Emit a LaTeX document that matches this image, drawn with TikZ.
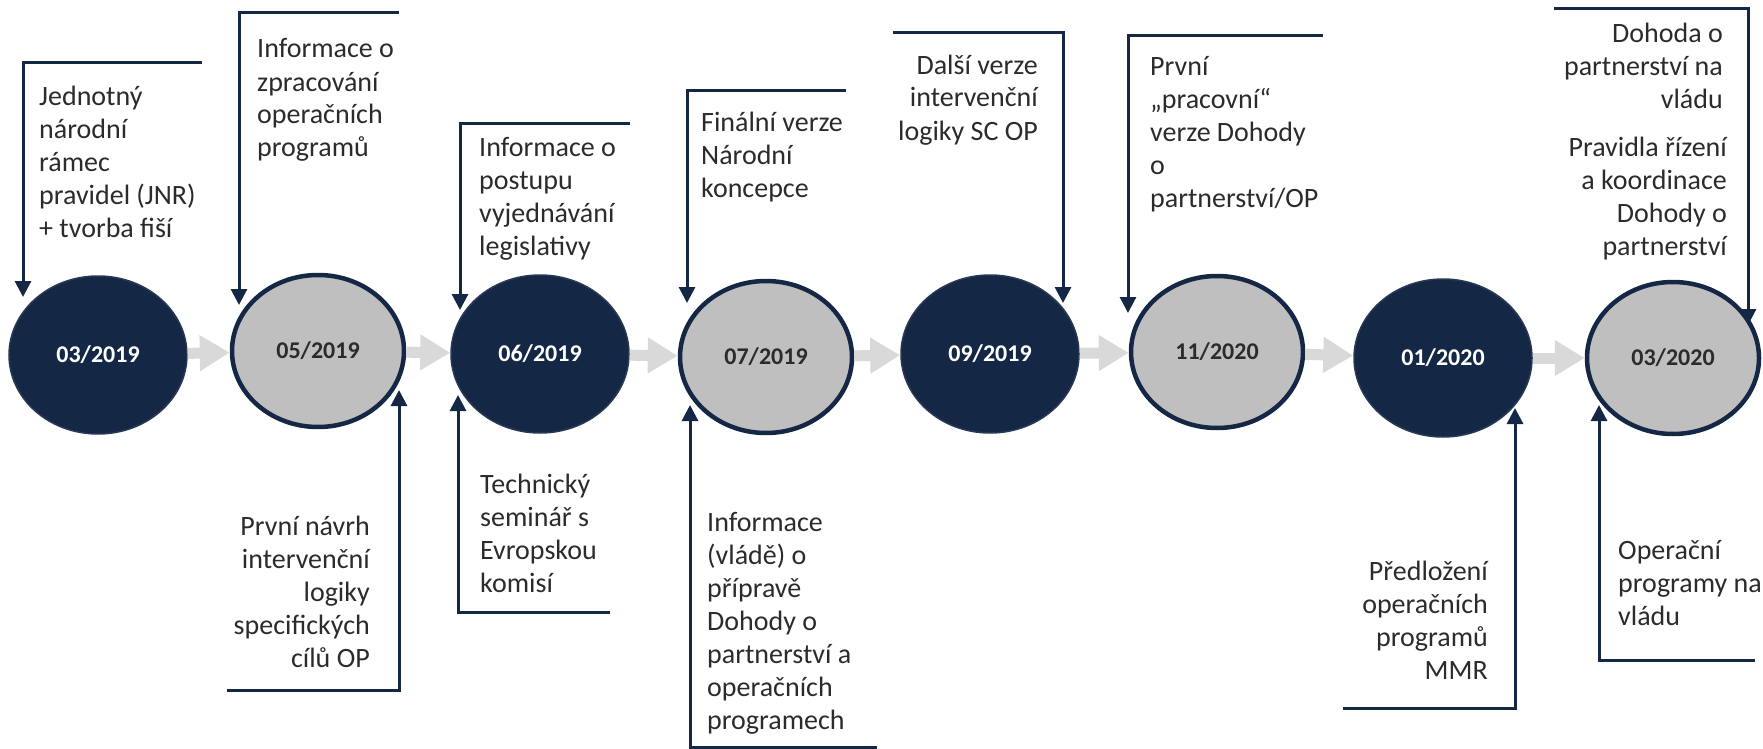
\documentclass[tikz,border=0pt]{standalone}
\usepackage{fontspec}
\setmainfont{Carlito}
\usetikzlibrary{shapes.geometric,arrows.meta}
\definecolor{navy}{HTML}{142846}
\definecolor{stepgray}{HTML}{BFBFBF}
\definecolor{flowgray}{HTML}{D9D9D9}
\definecolor{inkgray}{HTML}{2B2B2B}
\tikzset{
  stepnode/.style={ellipse, inner sep=0pt, font=\fontsize{24}{28}\selectfont\bfseries},
  darkstep/.style={stepnode, fill=navy, draw=navy!92!white, line width=1.5pt,
    minimum width=178pt, minimum height=158pt, text=white},
  graystep/.style={stepnode, fill=stepgray, draw=navy, line width=4.5pt,
    minimum width=172pt, minimum height=152pt, text=inkgray},
  flow/.style={draw=flowgray, line width=11pt, -{Triangle[length=30pt,width=34pt]}},
  callout/.style={draw=navy, line width=3pt, -{Triangle[length=16pt,width=16pt]}},
  note/.style={inner sep=0pt, text=inkgray, font=\fontsize{28}{33}\selectfont},
}
\begin{document}
\begin{tikzpicture}[x=1pt,y=-1pt]
      \useasboundingbox (0,0) rectangle (1763,749);
      \path
        (98,355) node[darkstep] (m1) {03/2019}
        (318,351) node[graystep] (m2) {05/2019}
        (540,354) node[darkstep] (m3) {06/2019}
        (766,357) node[graystep] (m4) {07/2019}
        (990,354) node[darkstep] (m5) {09/2019}
        (1217,352) node[graystep] (m6) {11/2020}
        (1443,358) node[darkstep] (m7) {01/2020}
        (1673,358) node[graystep] (m8) {03/2020};
      \begin{scope}[flow]
        \draw (m1) to (m2);
        \draw (m2) to (m3);
        \draw (m3) to (m4);
        \draw (m4) to (m5);
        \draw (m5) to (m6);
        \draw (m6) to (m7);
        \draw (m7) to (m8);
      \end{scope}
      % texts, placed by the baseline of their last line
      \node[note, anchor=base west, align=left] (n1) at (39,237)
        {Jednotný\\národní\\rámec\\pravidel (JNR)\\+ tvorba fiší};
      \node[note, anchor=base west, align=left] (n2) at (257,157)
        {Informace o\\zpracování\\operačních\\programů};
      \node[note, anchor=base east, align=right] (n3) at (370,667)
        {První návrh\\intervenční\\logiky\\specifických\\cílů OP};
      \node[note, anchor=base west, align=left] (n4) at (479,255)
        {Informace o\\postupu\\vyjednávání\\legislativy};
      \node[note, anchor=base west, align=left] (n5) at (480,592)
        {Technický\\seminář s\\Evropskou\\komisí};
      \node[note, anchor=base west, align=left] (n6) at (701,197)
        {Finální verze\\Národní\\koncepce};
      \node[note, anchor=base west, align=left] (n7) at (707,729)
        {Informace\\(vládě) o\\přípravě\\Dohody o\\partnerství a\\operačních\\programech};
      \node[note, anchor=base east, align=right] (n8) at (1038,140)
        {Další verze\\intervenční\\logiky SC OP};
      \node[note, anchor=base west, align=left] (n9) at (1150,207)
        {První\\„pracovní“\\verze Dohody\\o\\partnerství/OP};
      \node[note, anchor=base east, align=right] (n10) at (1488,679)
        {Předložení\\operačních\\programů\\MMR};
      \node[note, anchor=base east, align=right] (n11) at (1723,109)
        {Dohoda o\\partnerství na\\vládu};
      \node[note, anchor=base east, align=right] (n12) at (1727,255)
        {Pravidla řízení\\a koordinace\\Dohody o\\partnerství};
      \node[note, anchor=base west, align=left] (n13) at (1618,625)
        {Operační\\programy na\\vládu};
      % callout corners
      \path
        (202,63) coordinate (a1) (23,63) coordinate (b1) (23,297) coordinate (t1)
        (399,13) coordinate (a2) (239,13) coordinate (b2) (239,305) coordinate (t2)
        (227,690) coordinate (a3) (399,690) coordinate (b3) (399,390) coordinate (t3)
        (630,124) coordinate (a4) (460,124) coordinate (b4) (460,310) coordinate (t4)
        (610,612) coordinate (a5) (458,612) coordinate (b5) (458,395) coordinate (t5)
        (846,91) coordinate (a6) (687,91) coordinate (b6) (687,303) coordinate (t6)
        (877,747) coordinate (a7) (690,747) coordinate (b7) (690,405) coordinate (t7)
        (893,33) coordinate (a8) (1063,33) coordinate (b8) (1063,303) coordinate (t8)
        (1323,36) coordinate (a9) (1128,36) coordinate (b9) (1128,313) coordinate (t9)
        (1343,708) coordinate (a10) (1515,708) coordinate (b10) (1515,408) coordinate (t10)
        (1554,9) coordinate (a11) (1748,9) coordinate (b11) (1748,325) coordinate (t11)
        (1755,660) coordinate (a12) (1599,660) coordinate (b12) (1599,405) coordinate (t12);
      \begin{scope}[callout]
        \draw (a1) -- (b1) -- (t1);
        \draw (a2) -- (b2) -- (t2);
        \draw (a3) -- (b3) -- (t3);
        \draw (a4) -- (b4) -- (t4);
        \draw (a5) -- (b5) -- (t5);
        \draw (a6) -- (b6) -- (t6);
        \draw (a7) -- (b7) -- (t7);
        \draw (a8) -- (b8) -- (t8);
        \draw (a9) -- (b9) -- (t9);
        \draw (a10) -- (b10) -- (t10);
        \draw (a11) -- (b11) -- (t11);
        \draw (a12) -- (b12) -- (t12);
      \end{scope}
    \end{tikzpicture}
\end{document}
